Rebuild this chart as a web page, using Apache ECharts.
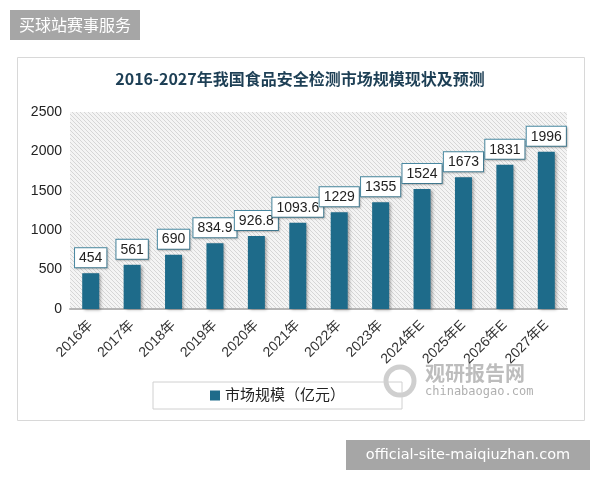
<!DOCTYPE html>
<html><head><meta charset="utf-8">
<script src="https://cdn.jsdelivr.net/npm/echarts@6/dist/echarts.min.js"></script>
<style>html,body{margin:0;padding:0;background:#fff}#c{width:600px;height:480px}</style>
</head><body><div id="c"></div>
<script>
var categories = ['2016年','2017年','2018年','2019年','2020年','2021年','2022年','2023年','2024年E','2025年E','2026年E','2027年E'];
var values = [454, 561, 690, 834.9, 926.8, 1093.6, 1229, 1355, 1524, 1673, 1831, 1996];
var seriesName = '市场规模（亿元）';
var titleText = '2016-2027年我国食品安全检测市场规模现状及预测';

var pc = document.createElement('canvas');
pc.width = 4; pc.height = 4;
var g = pc.getContext('2d');
g.fillStyle = '#f4f4f4'; g.fillRect(0,0,4,4);
g.strokeStyle = '#d6d6d6'; g.lineWidth = 1;
g.beginPath(); g.moveTo(-1,-1); g.lineTo(5,5); g.stroke();
g.beginPath(); g.moveTo(-1,3); g.lineTo(1,5); g.stroke();
g.beginPath(); g.moveTo(3,-1); g.lineTo(5,1); g.stroke();

var chart = echarts.init(document.getElementById('c'), null, {renderer:'canvas'});
var font = '"Liberation Sans","Noto Sans CJK SC",sans-serif';
chart.setOption({
  backgroundColor:'#fff',
  animation:false,
  title:{text:titleText,left:'center',top:66,textStyle:{fontFamily:'"Noto Sans CJK SC",serif',fontSize:16,fontWeight:'bold',color:'#1d3f55'}},
  grid:{left:70,right:33,top:112,bottom:171,show:true,borderWidth:0,backgroundColor:{image:pc,repeat:'repeat'}},
  xAxis:{type:'category',data:categories,
    axisLine:{lineStyle:{color:'#b5b5b5',width:2}},axisTick:{show:false},
    axisLabel:{rotate:45,fontSize:14,color:'#333',fontFamily:font,margin:14,interval:0}},
  yAxis:{type:'value',min:0,max:2500,interval:500,
    axisLine:{show:false},axisTick:{show:false},splitLine:{show:false},
    axisLabel:{fontSize:14,color:'#222',fontFamily:font,margin:8,formatter:function(v){return String(v);}}},
  legend:{data:[seriesName],left:153,top:382,padding:[6,57],borderColor:'#d0d0d0',borderWidth:1,
    icon:'rect',itemWidth:10,itemHeight:10,itemGap:6,textStyle:{fontSize:15,color:'#222',fontFamily:font}},
  series:[{name:seriesName,type:'bar',data:values,barWidth:17,
    itemStyle:{color:'#1e6b8a',shadowColor:'rgba(0,0,0,0.35)',shadowBlur:3,shadowOffsetX:2,shadowOffsetY:1},
    label:{show:true,position:'top',distance:6,fontSize:14,color:'#222',fontFamily:font,
      backgroundColor:'#fff',borderColor:'#4a8aa3',borderWidth:1,padding:[3,4,2,4],
      shadowColor:'rgba(0,0,0,0.2)',shadowBlur:2,shadowOffsetX:1,shadowOffsetY:1}}],
  graphic:[
    {type:'rect',shape:{x:17.5,y:57.5,width:567,height:363},style:{fill:'none',stroke:'#d8d8d8',lineWidth:1},z:-1},
    {type:'rect',shape:{x:10,y:10,width:130,height:30},style:{fill:'#a6a6a6'}},
    {type:'text',x:75,y:25,style:{text:'买球站赛事服务',fill:'#fff',fontSize:16,fontFamily:'"Noto Sans CJK SC",sans-serif',align:'center',verticalAlign:'middle'}},
    {type:'rect',shape:{x:346,y:440,width:244,height:30},style:{fill:'#a6a6a6'}},
    {type:'text',x:468,y:455,style:{text:'official-site-maiqiuzhan.com',fill:'#fff',fontSize:14.5,fontFamily:'"DejaVu Sans",sans-serif',align:'center',verticalAlign:'middle'}},
    {type:'circle',shape:{cx:400,cy:381,r:14},style:{fill:'none',stroke:'#cfcfcf',lineWidth:5}},
    {type:'text',x:425,y:373,style:{text:'观研报告网',fill:'#bdbdbd',fontSize:20,fontWeight:'bold',fontFamily:'"Noto Sans CJK SC",sans-serif',verticalAlign:'middle'}},
    {type:'text',x:425,y:392,style:{text:'chinabaogao.com',fill:'#b0b0b0',fontSize:12,fontFamily:'"DejaVu Sans Mono",monospace',verticalAlign:'middle'}}
  ]
});
</script></body></html>
